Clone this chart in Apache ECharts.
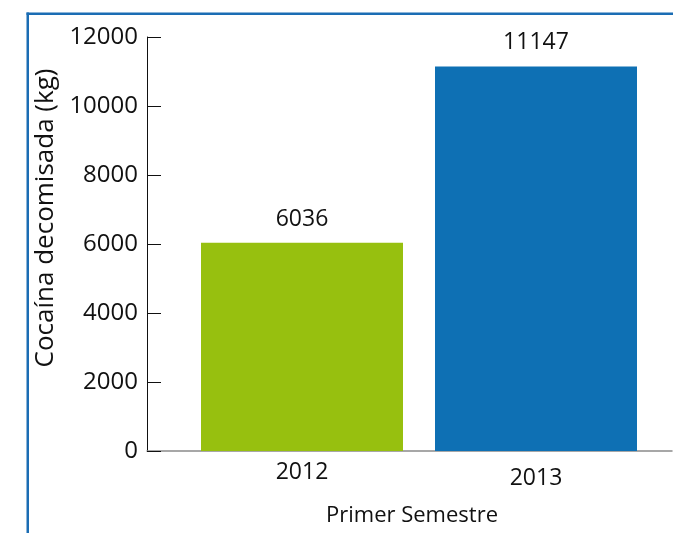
<!DOCTYPE html>
<html>
<head>
<meta charset="utf-8">
<script src="https://cdn.jsdelivr.net/npm/echarts@6/dist/echarts.min.js"></script>
<style>
html,body{margin:0;padding:0;background:#fff;}
#main{width:673px;height:533px;}
</style>
</head>
<body>
<div id="main"></div>
<script>
const categories = ['2012', '2013'];
const values = [6036, 11147];
const barColors = ['#97C00F', '#0E70B4'];
const yTicks = { min: 0, max: 12000, interval: 2000 };
const yTitle = 'Cocaína decomisada (kg)';
const xTitle = 'Primer Semestre';

const FONT = '"Open Sans", "Noto Sans", sans-serif';
const chart = echarts.init(document.getElementById('main'), null, { renderer: 'canvas' });

chart.setOption({
  animation: false,
  backgroundColor: '#ffffff',
  grid: [
    { left: 185, right: 20, top: 37, bottom: 82 },
    { left: 147, right: 1, top: 37, bottom: 82 }
  ],
  xAxis: [
    {
      type: 'category',
      gridIndex: 0,
      data: categories.map((c, i) => i === 1 ? { value: c, textStyle: { padding: [6, 0, 0, 0] } } : c),
      axisLine: { show: false },
      axisTick: { show: false },
      axisLabel: { color: '#111', fontSize: 23, fontFamily: FONT, margin: 10 },
      name: xTitle,
      nameLocation: 'middle',
      nameGap: 54,
      nameTextStyle: { color: '#111', fontSize: 22, fontFamily: FONT, padding: [0, 14, 0, 0] }
    },
    {
      type: 'value',
      gridIndex: 1,
      min: 0, max: 1,
      axisLine: { show: true, lineStyle: { color: '#8a8a8a', width: 1.5 } },
      axisTick: { show: false },
      axisLabel: { show: false },
      splitLine: { show: false }
    }
  ],
  yAxis: [
    {
      type: 'value',
      gridIndex: 0,
      min: yTicks.min, max: yTicks.max, interval: yTicks.interval,
      offset: 38,
      axisLine: { show: true, lineStyle: { color: '#111', width: 1 } },
      axisTick: { show: true, inside: true, length: 14, lineStyle: { color: '#111', width: 1 } },
      axisLabel: { color: '#111', fontSize: 24, fontFamily: FONT, margin: 9, formatter: v => String(v) },
      splitLine: { show: false },
      name: yTitle,
      nameLocation: 'middle',
      nameGap: 80,
      nameTextStyle: { color: '#111', fontSize: 26, fontFamily: FONT, padding: [0, 0, 0, 52] }
    },
    {
      type: 'value',
      gridIndex: 1,
      show: false,
      min: 0, max: 1
    }
  ],
  series: [
    {
      type: 'bar',
      xAxisIndex: 0,
      yAxisIndex: 0,
      barWidth: 202,
      data: values.map((v, i) => ({ value: v, itemStyle: { color: barColors[i] } })),
      label: {
        show: true,
        position: 'top',
        distance: 12,
        color: '#111',
        fontSize: 23,
        fontFamily: FONT
      }
    }
  ],
  graphic: [
    { type: 'rect', shape: { x: 26.5, y: 12.5, width: 2.5, height: 530 }, style: { fill: '#1B6DB4' }, silent: true },
    { type: 'rect', shape: { x: 26.5, y: 12.5, width: 650, height: 2.5 }, style: { fill: '#1B6DB4' }, silent: true }
  ]
});
</script>
</body>
</html>
